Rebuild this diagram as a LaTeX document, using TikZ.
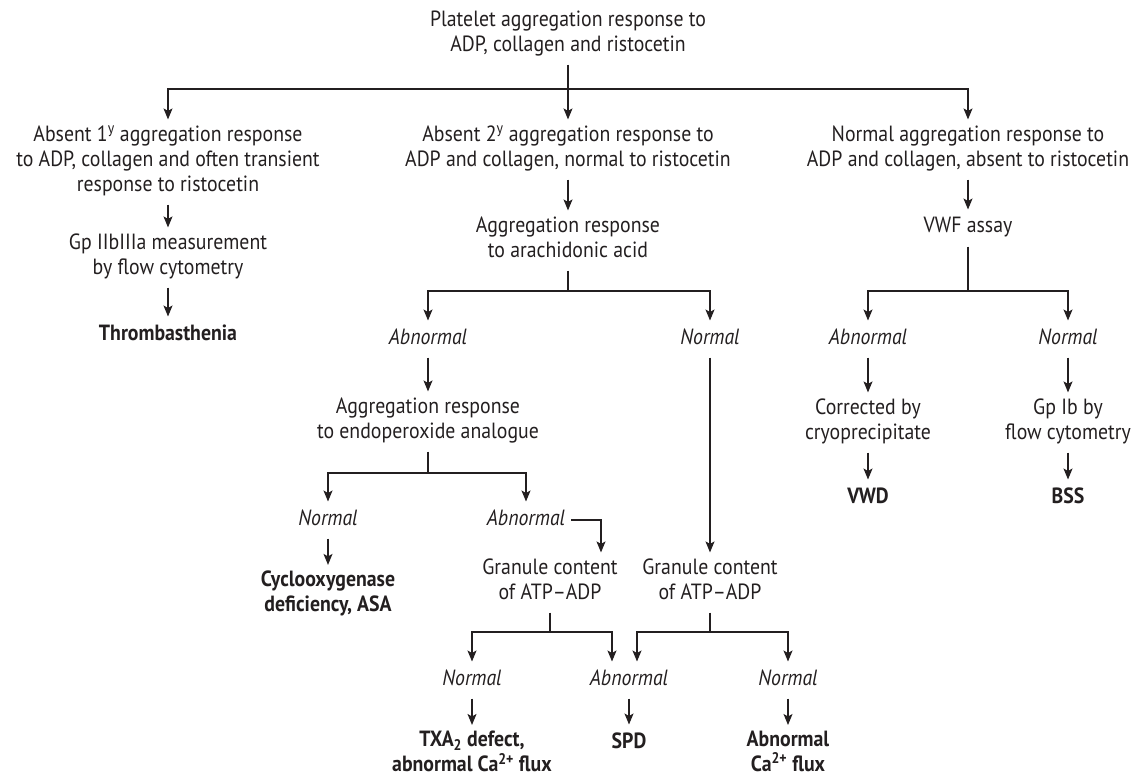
\documentclass[tikz,border=0pt]{standalone}
\usepackage{fontspec}
\setmainfont[FakeStretch=0.9]{PT Sans}
\usetikzlibrary{arrows.meta}
\definecolor{ink}{RGB}{35,31,32}
\begin{document}
\begin{tikzpicture}[x=1pt,y=-1pt,
  txt/.style={align=center, inner sep=0pt, outer sep=6pt, text=ink,
    font=\fontsize{22}{25}\selectfont,
    execute at begin node=\strut, execute at end node=\strut},
  lab/.style={txt, font=\fontsize{22}{25}\selectfont\itshape},
  res/.style={txt, font=\fontsize{22}{25}\selectfont\bfseries},
  ln/.style={line width=1.2pt, draw=ink},
  arr/.style={ln, -{Stealth[length=11pt,width=9pt,inset=2.5pt]}}]
\useasboundingbox (0,0) rectangle (1135,778);

% top
\node[txt] (top) at (568,34.5) {Platelet aggregation response to\\ADP, collagen and ristocetin};
\coordinate (tb) at (568,89);

\node[txt] (n1) at (168,162) {Absent 1\textsuperscript{y} aggregation response\\to ADP, collagen and often transient\\response to ristocetin};
\node[txt] (n2) at (568,149.5) {Absent 2\textsuperscript{y} aggregation response to\\ADP and collagen, normal to ristocetin};
\node[txt] (n3) at (968,149.5) {Normal aggregation response to\\ADP and collagen, absent to ristocetin};

% left branch
\node[txt] (gp) at (168,257.5) {Gp IIbIIIa measurement\\by flow cytometry};
\node[res] (thr) at (168,335) {Thrombasthenia};

% middle branch
\node[txt] (agg1) at (568,240.5) {Aggregation response\\to arachidonic acid};
\coordinate (b1) at (568,291);
\node[lab] (ab1) at (428,339) {Abnormal};
\node[lab] (no1) at (710,339) {Normal};
\node[txt] (agg2) at (428,421.5) {Aggregation response\\to endoperoxide analogue};
\coordinate (b2) at (428,473);
\node[lab] (no2) at (328,520) {Normal};
\node[lab] (ab2) at (526,520) {Abnormal};
\node[res] (cyc) at (328,595) {Cyclooxygenase\\deficiency, ASA};
\node[txt] (g1) at (550,582.5) {Granule content\\of ATP--ADP};
\node[txt] (g2) at (710,582.5) {Granule content\\of ATP--ADP};
\coordinate (b3) at (550,632);
\coordinate (b5) at (710,632);
\node[lab] (no4) at (472,680) {Normal};
\node[lab] (ab4) at (629,680) {Abnormal};
\node[lab] (no5) at (788,680) {Normal};
\node[res] (txa) at (472,755) {TXA\textsubscript{2} defect,\\abnormal Ca\textsuperscript{2+} flux};
\node[res] (spd) at (629,743) {SPD};
\node[res] (abca) at (788,755) {Abnormal\\Ca\textsuperscript{2+} flux};

% right branch
\node[txt] (vwf) at (968,228) {VWF assay};
\coordinate (b4) at (968,291);
\node[lab] (ab5) at (868,339) {Abnormal};
\node[lab] (no5b) at (1068,339) {Normal};
\node[txt] (corr) at (868,422.5) {Corrected by\\cryoprecipitate};
\node[txt] (gpib) at (1068,422.5) {Gp Ib by\\flow cytometry};
\node[res] (vwd) at (868,498) {VWD};
\node[res] (bss) at (1068,498) {BSS};

% connectors
\draw[arr] (top) -- (n2);
\draw[arr] (tb) -| (n1);
\draw[arr] (tb) -| (n3);

\draw[arr] (n1) -- (gp);
\draw[arr] (gp) -- (thr);

\draw[arr] (n2) -- (agg1);
\draw[ln] (agg1) -- (b1);
\draw[arr] (b1) -| (ab1);
\draw[arr] (b1) -| (no1);
\draw[arr] (ab1) -- (agg2);
\draw[ln] (agg2) -- (b2);
\draw[arr] (b2) -| (no2);
\draw[arr] (b2) -| (ab2);
\draw[arr] (no2) -- (cyc);
\draw[arr] (ab2.east) -| ([xshift=51pt]g1.north);
\draw[arr] (no1) -- (g2);
\draw[ln] (g1) -- (b3);
\draw[ln] (g2) -- (b5);
\draw[arr] (b3) -| (no4);
\draw[arr] (b3) -| ([xshift=-17pt]ab4.north);
\draw[arr] (b5) -| ([xshift=8pt]ab4.north);
\draw[arr] (b5) -| (no5);
\draw[arr] (no4) -- (txa);
\draw[arr] (ab4) -- (spd);
\draw[arr] (no5) -- (abca);

\draw[arr] (n3) -- (vwf);
\draw[ln] (vwf) -- (b4);
\draw[arr] (b4) -| (ab5);
\draw[arr] (b4) -| (no5b);
\draw[arr] (ab5) -- (corr);
\draw[arr] (no5b) -- (gpib);
\draw[arr] (corr) -- (vwd);
\draw[arr] (gpib) -- (bss);
\end{tikzpicture}
\end{document}
